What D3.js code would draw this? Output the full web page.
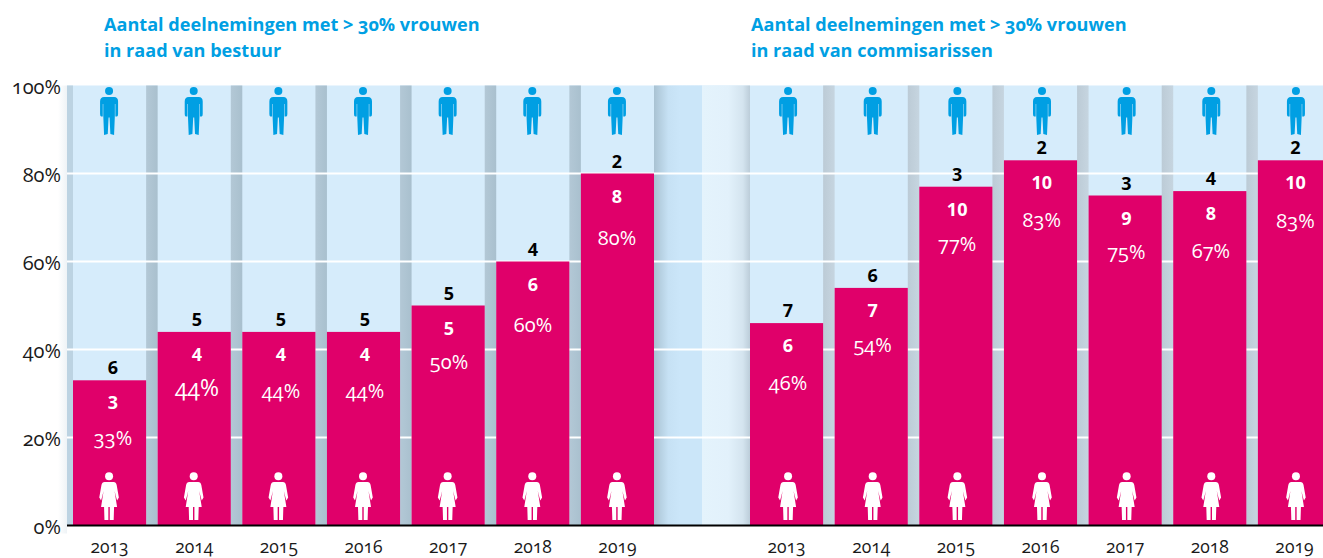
<!DOCTYPE html>
<html><head><meta charset="utf-8">
<script src="https://cdn.jsdelivr.net/npm/d3@7/dist/d3.min.js"></script>
<style>
html,body{margin:0;padding:0;background:#fff;overflow:hidden}
svg{display:block}
text{font-family:"Open Sans","Noto Sans",sans-serif;font-variant-numeric:oldstyle-nums;font-feature-settings:"onum" 1}
text.m,text.w{font-variant-numeric:lining-nums;font-feature-settings:"lnum" 1}
</style></head><body><svg id="c" width="1323" height="558"></svg>
<script>
const years=[2013,2014,2015,2016,2017,2018,2019];
const yTicks=[0,20,40,60,80,100];
const titleLeft=["Aantal deelnemingen met > 30% vrouwen","in raad van bestuur"];
const titleRight=["Aantal deelnemingen met > 30% vrouwen","in raad van commisarissen"];
const leftHeights=[33,44,44,44,50,60,80];
const leftWomen=[3,4,4,4,5,6,8];
const leftMen=[6,5,5,5,5,4,2];
const leftPct=[33,44,44,44,50,60,80];
const rightHeights=[46,54,77,83,75,76,83];
const rightWomen=[6,7,10,10,9,8,10];
const rightMen=[7,6,3,2,3,4,2];
const rightPct=[46,54,77,83,75,67,83];

// layout only: small per-label corrections of the percentage labels
const leftPctNudge=[-1,-2,0,0,-3,4,5];
const rightPctNudge=[1,-2,-2,1,-3,1,2];
const leftPctSize=[20,23,20,20,20,20,20];
const rightPctSize=[20,20,20,20,20,20,20];

const svg=d3.select("#c");
const y=d3.scaleLinear().domain([0,100]).range([525.5,85.5]);
const xL=d3.scaleBand().domain(years).range([73,654]).paddingInner(.136).paddingOuter(0);
const xR=d3.scaleBand().domain(years).range([750,1331]).paddingInner(.136).paddingOuter(0);
const labelL=d3.scalePoint().domain(years).range([113,617]);
const labelR=d3.scalePoint().domain(years).range([788,1295.5]);

const defs=svg.append("defs");
function grad(id,stops){
  const g=defs.append("linearGradient").attr("id",id);
  stops.forEach(s=>g.append("stop").attr("offset",s[0]).attr("stop-color",s[1]));
}
grad("gapL",[[0,"#b3c8d6"],[1,"#a9c0ce"]]);
grad("gapR",[[0,"#bccbd6"],[1,"#c6d5e0"]]);
grad("midA",[[0,"#a9c2d2"],[.3,"#c6e1f4"],[.55,"#cbe6f9"],[1,"#cbe6f9"]]);
grad("midB",[[0,"#e4f3fc"],[.55,"#e2f1fb"],[.85,"#d4e4ef"],[1,"#bccdd9"]]);
grad("edge",[[0,"#ffffff"],[1,"#eef3f6"]]);

const g=svg.append("g");
const plotTop=y(100),h=y(0)-y(100);
g.append("rect").attr("x",58).attr("y",plotTop).attr("width",9).attr("height",h+8).attr("fill","url(#edge)");
g.append("rect").attr("x",67).attr("y",plotTop).attr("width",1256).attr("height",h).attr("fill","#d6ecfb");
g.append("rect").attr("x",67).attr("y",plotTop).attr("width",6).attr("height",h).attr("fill","#bcd3e2");
g.append("rect").attr("x",xL(2019)+xL.bandwidth()).attr("y",plotTop).attr("width",48).attr("height",h).attr("fill","url(#midA)");
g.append("rect").attr("x",702).attr("y",plotTop).attr("width",48).attr("height",h).attr("fill","url(#midB)");
[[xL,"url(#gapL)"],[xR,"url(#gapR)"]].forEach(([x,f])=>{
  g.selectAll(null).data(years.slice(0,-1)).join("rect")
   .attr("x",d=>x(d)+x.bandwidth()).attr("y",plotTop)
   .attr("width",x.step()-x.bandwidth()).attr("height",h).attr("fill",f);
});
g.selectAll("line.grid").data(yTicks.slice(1,-1)).join("line").attr("class","grid")
 .attr("x1",67).attr("x2",1323).attr("y1",d=>y(d)).attr("y2",d=>y(d))
 .attr("stroke","#fff").attr("stroke-width",2);

function man(sel){
  sel.append("circle").attr("cx",0).attr("cy",4.6).attr("r",4).attr("fill","#009fe3");
  sel.append("path").attr("fill","#009fe3")
   .attr("d","M-5,10.5H5Q9,10.5 9,15V27.5Q9,29.5 8,30L6.3,30V17.5H5.8V29L5,48.5L1.3,47.5L.5,31H-.5L-1.3,47.5L-5,48.5L-5.8,29V17.5H-6.3V30L-8,30Q-9,29.5 -9,27.5V15Q-9,10.5 -5,10.5Z");
}
function woman(sel){
  sel.append("circle").attr("cx",0).attr("cy",4.3).attr("r",4).attr("fill","#fff");
  sel.append("path").attr("fill","#fff")
   .attr("d","M-4.5,10H4.5Q7,10 7.6,13L9.8,25.5L8,28.5L7,25L5.5,19L8,35H-8L-5.5,19L-7,25L-8,28.5L-9.8,25.5L-7.6,13Q-7,10 -4.5,10Z");
  sel.append("path").attr("fill","#fff")
   .attr("d","M-5,35H-.7V48H-4.6ZM.7,35H5L4.6,48H.7Z");
}

function panel(x,lx,iconShift,heights,women,men,pct,nudge,sizes,title,titleX){
  const rows=years.map((yr,i)=>({yr,v:heights[i],w:women[i],m:men[i],p:pct[i],n:nudge[i],s:sizes[i]}));
  const p=svg.append("g");
  p.selectAll("rect.bar").data(rows).join("rect").attr("class","bar")
   .attr("x",d=>x(d.yr)).attr("width",x.bandwidth())
   .attr("y",d=>y(d.v)).attr("height",d=>y(0)-y(d.v)).attr("fill","#e0006a");
  const cx=d=>x(d.yr)+x.bandwidth()/2+iconShift;
  const tx=d=>lx(d.yr);
  p.selectAll("g.man").data(rows).join("g").attr("class","man")
   .attr("transform",d=>`translate(${cx(d)},${plotTop+1})`).call(man);
  p.selectAll("g.woman").data(rows).join("g").attr("class","woman")
   .attr("transform",d=>`translate(${cx(d)},472)`).call(woman);
  p.selectAll("text.m").data(rows).join("text").attr("class","m")
   .attr("x",tx).attr("y",d=>y(d.v)-6).attr("text-anchor","middle")
   .attr("font-size",18).attr("font-weight",700).attr("fill","#000").text(d=>d.m);
  p.selectAll("text.w").data(rows).join("text").attr("class","w")
   .attr("x",tx).attr("y",d=>y(d.v)+29).attr("text-anchor","middle")
   .attr("font-size",18).attr("font-weight",700).attr("fill","#fff").text(d=>d.w);
  p.selectAll("text.p").data(rows).join("text").attr("class","p")
   .attr("x",tx).attr("y",d=>y(d.v)+66+d.n).attr("text-anchor","middle")
   .attr("font-size",d=>d.s).attr("font-weight",400).attr("fill","#fff").text(d=>d.p+"%");
  const ax=svg.append("g").attr("transform",`translate(0,${y(0)})`).call(d3.axisBottom(x).tickSize(0).tickPadding(15));
  ax.select(".domain").remove();
  ax.selectAll("text").attr("font-size",17.5).attr("fill","#1a1a1a").style("font-family",null);
  svg.selectAll(null).data(title).join("text").attr("x",titleX).attr("y",(d,i)=>31+i*26)
   .attr("font-size",18.1).attr("font-weight",700).attr("fill","#009fe3").text(d=>d);
}
panel(xL,labelL,-0.5,leftHeights,leftWomen,leftMen,leftPct,leftPctNudge,leftPctSize,titleLeft,104);
panel(xR,labelR,1.5,rightHeights,rightWomen,rightMen,rightPct,rightPctNudge,rightPctSize,titleRight,751);

const ya=svg.append("g").attr("transform","translate(66,0)").call(d3.axisLeft(y).tickValues(yTicks).tickFormat(d=>d+"%").tickSize(0).tickPadding(5));
ya.select(".domain").remove();
ya.selectAll("text").attr("font-size",20).attr("fill","#1a1a1a").attr("dy","0.42em").style("font-family",null);
svg.append("line").attr("x1",67).attr("x2",1323).attr("y1",y(0)).attr("y2",y(0)).attr("stroke","#000").attr("stroke-width",2);
</script></body></html>
